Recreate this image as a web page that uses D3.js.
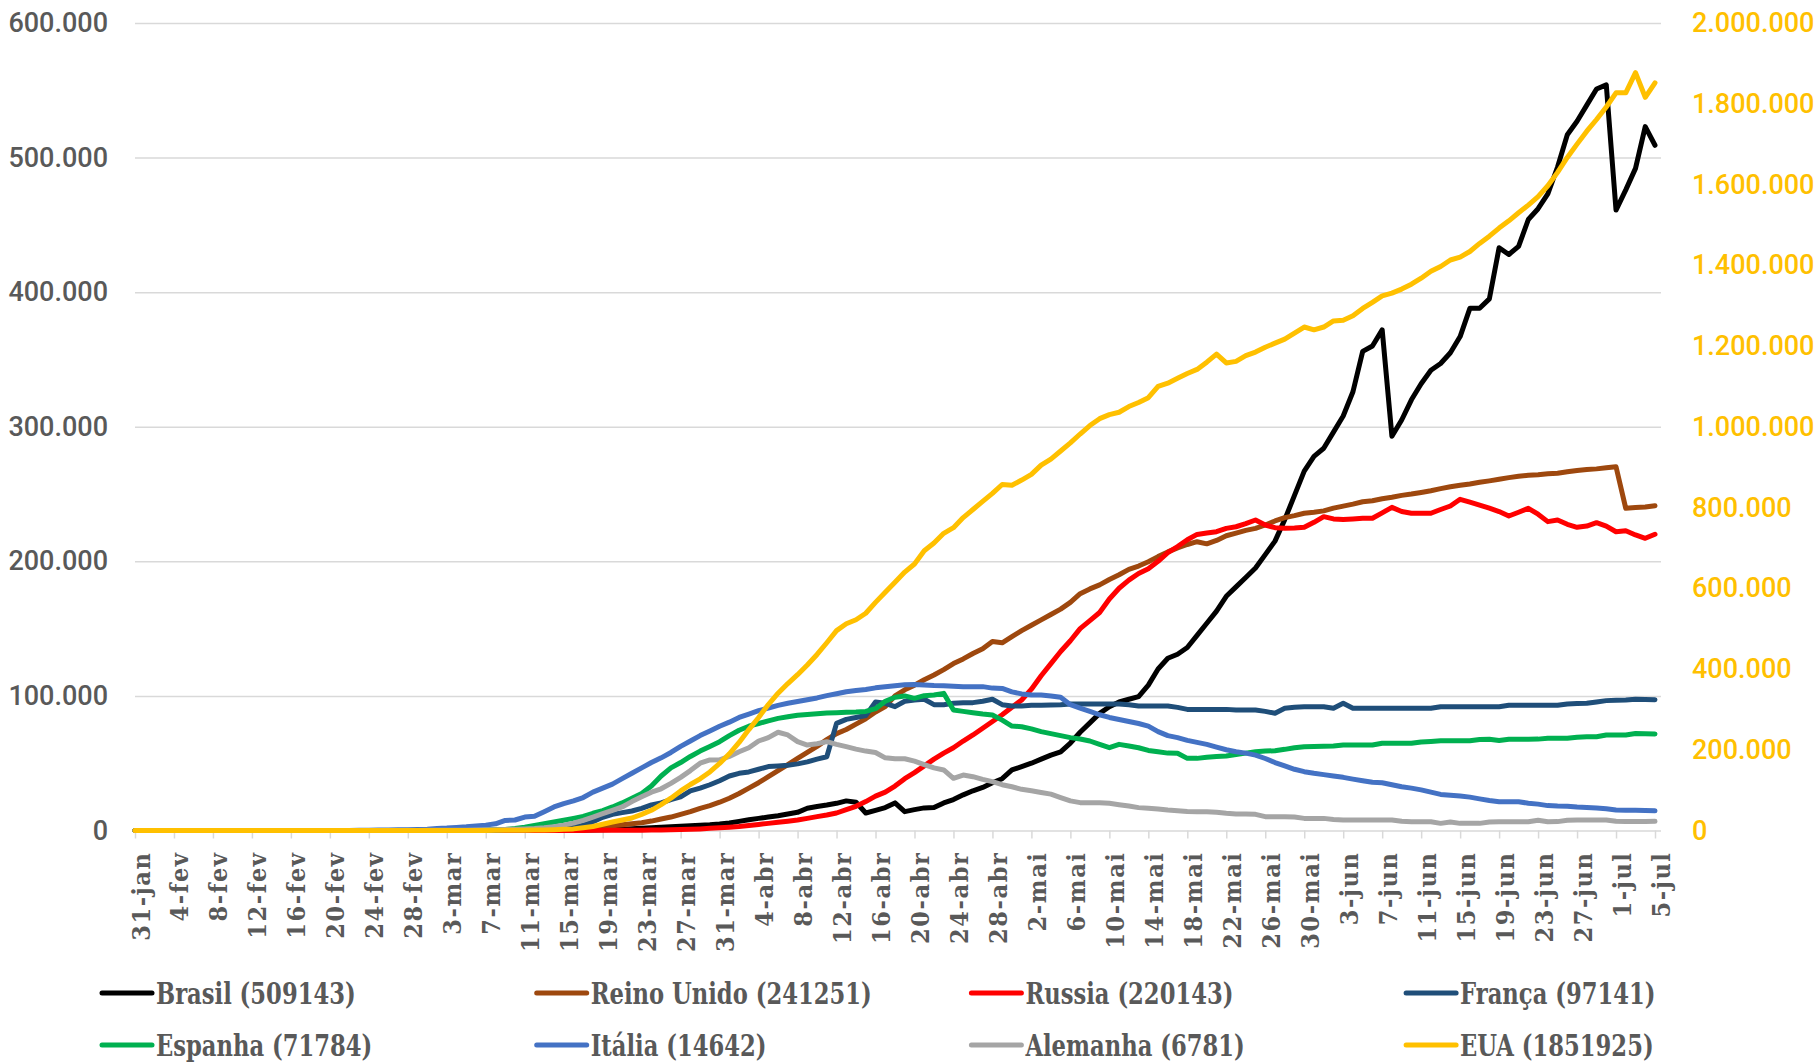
<!DOCTYPE html>
<html>
<head>
<meta charset="utf-8">
<script src="https://cdn.jsdelivr.net/npm/d3@7"></script>
<style>
  body { margin: 0; background: #fff; }
  .canvas svg { display: block; }
</style>
</head>
<body>
<div class="canvas"></div>
<script>
// one value per day, 31-jan to 5-jul
const firstDay = new Date(2020, 0, 31);
const lastDay = new Date(2020, 6, 5);
const monthNames = ['jan', 'fev', 'mar', 'abr', 'mai', 'jun', 'jul'];

const tickLabels = ['31-jan', '4-fev', '8-fev', '12-fev', '16-fev', '20-fev', '24-fev', '28-fev',
  '3-mar', '7-mar', '11-mar', '15-mar', '19-mar', '23-mar', '27-mar', '31-mar',
  '4-abr', '8-abr', '12-abr', '16-abr', '20-abr', '24-abr', '28-abr',
  '2-mai', '6-mai', '10-mai', '14-mai', '18-mai', '22-mai', '26-mai', '30-mai',
  '3-jun', '7-jun', '11-jun', '15-jun', '19-jun', '23-jun', '27-jun', '1-jul', '5-jul'];

const leftTicks = [0, 100000, 200000, 300000, 400000, 500000, 600000];
const rightTicks = [0, 200000, 400000, 600000, 800000, 1000000, 1200000, 1400000, 1600000, 1800000, 2000000];

const brasil = [
  0,0,0,0,0,0,0,0,0,0,
  0,0,0,0,0,0,0,0,0,0,
  0,0,0,0,0,0,1,1,1,2,
  2,2,2,3,8,13,19,25,30,35,
  52,76,98,121,200,230,290,420,600,800,
  1000,1300,1600,2000,2400,2800,3200,3600,3900,4200,
  4800,5600,6800,8000,9000,10000,11000,12300,13500,16500,
  17800,18900,20200,22000,21000,13000,15000,17000,20500,14000,
  15500,16800,17000,20500,23000,26500,29500,32000,35500,38500,
  45000,47500,50000,53000,56000,58500,65000,73000,80000,87000,
  92000,95500,97500,99500,108000,120000,128000,131000,136000,145000,
  154000,163000,174000,181000,188000,195000,205000,215000,231000,249000,
  267000,278000,284000,296000,308000,326000,356000,360000,372000,293000,
  305000,320000,332000,342000,347000,355000,367000,388000,388000,395000,
  433000,428000,434000,454000,462000,473000,493000,517000,527000,539000,
  551000,554000,461000,476000,492000,523000,509143
];

const reinoUnido = [
  2,2,2,2,2,2,2,2,2,3,
  8,8,8,8,8,8,8,8,8,8,
  8,8,8,8,8,13,13,15,20,23,
  35,40,40,51,80,107,160,190,250,300,
  350,400,440,570,1000,1300,1800,2200,2800,3500,
  4300,5000,5800,7000,8500,10000,12000,14000,16500,18500,
  21000,24000,27500,31500,35500,40000,44500,49000,53500,58000,
  62500,67500,72000,75000,79000,83000,88000,92000,100000,104500,
  108000,112000,115500,119500,124000,127500,131500,135000,140500,139500,
  144000,148500,152500,156500,160500,164500,169500,176000,179500,182500,
  186500,190000,194000,196500,199700,203500,207000,210000,212500,214600,
  213000,215500,219000,221000,223000,224500,227000,230000,232500,234000,
  235700,236500,237500,239500,241000,242500,244300,245000,246500,247600,
  249000,250000,251200,252500,254000,255400,256500,257500,258700,259800,
  261000,262200,263200,264000,264400,265000,265400,266500,267500,268200,
  268700,269500,270300,239400,240000,240300,241251
];

const russia = [
  0,0,2,2,2,2,2,2,2,2,
  2,2,2,2,2,2,2,2,2,0,
  0,0,0,0,0,0,0,0,0,0,
  0,2,3,3,3,4,4,10,13,15,
  20,25,27,40,55,70,80,95,110,130,
  150,200,250,300,400,500,700,900,1200,1600,
  2000,2500,3000,3700,4500,5300,6100,6900,7800,9000,
  10300,11500,13000,15500,18000,21500,25500,28500,33000,38500,
  43000,48000,53000,57500,61500,66500,71000,76000,81000,86000,
  91500,97000,105000,115000,124000,133000,141000,150000,156000,162000,
  172000,180000,186000,191000,194500,200000,206500,211000,216000,220000,
  221000,222000,224500,225700,228000,230700,227000,225000,224500,224800,
  225300,229000,233200,231500,231000,231500,232000,232000,236000,240100,
  237000,235700,235700,235700,238500,241100,246100,244000,241800,239500,
  237000,233700,236500,239400,235000,229500,230700,227500,225300,226200,
  228700,226200,222000,222700,219600,217100,220143
];

const franca = [
  6,6,6,6,6,6,6,6,6,6,
  11,11,11,11,11,11,11,11,11,11,
  11,11,11,11,11,12,15,30,45,60,
  80,100,110,150,200,250,330,420,500,560,
  600,800,1000,1400,1900,2500,4000,6500,9800,12000,
  13300,14500,16500,19000,20500,23000,25000,29500,31500,34000,
  37000,40500,42500,43500,45500,47500,48000,48500,49500,51000,
  53000,54800,79600,82600,84000,85500,95500,94500,92000,96000,
  97000,97500,93500,93500,94500,95000,95000,96000,97500,93500,
  92500,92500,93000,93000,93200,93500,94000,94000,94000,94000,
  94000,94000,93500,92500,92500,92500,92500,91500,90000,90000,
  90000,90000,90000,89500,89500,89500,88500,87100,90800,91500,
  92000,92000,92000,90900,94500,90800,90800,90800,90800,90800,
  90800,90800,90800,90800,92000,92000,92000,92000,92000,92000,
  92000,93000,93000,93000,93000,93000,93000,94000,94300,94500,
  95500,96500,96800,97000,97500,97300,97141
];

const espanha = [
  0,0,0,0,0,0,0,0,0,0,
  1,1,1,2,2,2,2,2,2,2,
  2,2,2,2,2,2,10,15,30,40,
  70,110,140,200,230,330,380,500,800,1500,
  2500,3800,5000,6300,7600,9000,10500,12800,14800,17500,
  20500,24000,27500,33000,40500,46500,50500,55000,59000,62500,
  66000,70500,74500,77500,79500,81500,83300,84500,85700,86200,
  86700,87300,87500,87800,88000,88500,90500,96000,99000,100000,
  98200,100200,100700,101900,89500,88500,87500,86500,85800,82000,
  77600,77100,75500,73500,72000,70500,69000,68000,66500,64000,
  61500,64000,62800,61500,59500,58500,57500,57400,53600,53600,
  54500,55000,55400,56500,57500,58500,59000,59300,60300,61500,
  62300,62500,62600,62800,63500,63500,63500,63500,64800,64800,
  64800,64800,65800,66200,66700,66700,66700,66700,67600,67800,
  66900,67800,67800,67800,67900,68500,68500,68500,69300,69700,
  69700,71000,71000,71000,72000,71900,71784
];

const italia = [
  0,0,0,0,0,0,0,0,0,0,
  3,3,3,3,3,3,3,3,3,3,
  3,17,60,130,220,310,380,530,600,800,
  1000,1500,1800,2300,2700,3300,4000,5000,7500,7800,
  10000,10500,14000,17500,20000,22000,24500,28500,31500,34500,
  38500,42500,46500,50500,54000,58000,62500,66500,70500,74000,
  77500,80500,84000,86500,89000,91000,93000,94500,95800,97200,
  98500,100200,101600,103100,104000,104800,106000,106800,107500,108300,
  108500,108100,107700,107600,107200,106900,106900,106900,105800,105600,
  103000,101500,100700,100700,100000,99000,93500,91000,88500,86000,
  84000,82500,81000,79500,77600,73500,70500,69000,67000,65500,
  64000,62000,60000,58500,57500,56000,53500,50500,48000,45500,
  43700,42500,41500,40500,39500,38200,37000,35800,35500,34000,
  32500,31500,30200,28500,26800,26200,25700,24800,23500,22300,
  21400,21400,21300,20300,19600,18500,18200,18100,17400,17000,
  16700,16200,15300,15100,15000,14900,14642
];

const alemanha = [
  0,5,7,7,9,9,9,11,11,11,
  14,14,14,14,14,14,14,14,14,14,
  14,14,14,14,14,14,14,15,30,40,
  100,120,150,180,230,360,520,640,780,1000,
  1200,1500,2000,2800,4000,5500,7500,10000,12500,15000,
  17500,21500,25000,28500,31000,35000,39500,44500,50000,52400,
  52500,55000,58500,61500,66500,69000,73000,71000,66000,63500,
  64500,66000,64000,62300,60500,59000,58000,54000,53300,53300,
  51500,49000,46500,45000,38800,41200,40000,38000,36300,34000,
  32500,30600,29500,28300,27000,24500,22000,20700,20700,20700,
  20200,19200,18200,17000,16500,16000,15200,14700,14200,14000,
  14000,13500,12800,12300,12300,12000,10300,10300,10300,10000,
  9000,9000,9000,8200,7800,7800,7800,7800,7800,7800,
  6800,6500,6500,6500,5300,6300,5300,5300,5300,6300,
  6500,6500,6500,6500,7600,6500,6600,7600,7800,7800,
  7800,7800,6800,6600,6600,6600,6781
];

// EUA goes on the right-hand axis
const eua = [
  5,6,7,8,8,11,11,11,11,11,
  11,11,12,12,12,12,12,13,13,13,
  13,13,28,28,29,30,30,40,45,50,
  60,70,80,110,140,190,240,340,420,500,
  800,1100,1500,2000,2800,4000,7000,10000,15500,21000,
  26000,31000,40000,50000,64000,80000,98000,114000,128000,145000,
  166000,190000,218000,250000,280000,312000,340000,364000,386000,410000,
  436000,465000,495000,512000,522000,538000,565000,590000,615000,640000,
  660000,693000,712000,736000,750000,775000,795000,815000,835000,857000,
  855000,868000,882000,905000,920000,940000,960000,982000,1003000,1020000,
  1030000,1036000,1050000,1060000,1072000,1100000,1108000,1120000,1132000,1142000,
  1160000,1180000,1158000,1162000,1176000,1185000,1197000,1207000,1217000,1232000,
  1247000,1240000,1247000,1262000,1264000,1275000,1293000,1308000,1324000,1331000,
  1341000,1353000,1368000,1385000,1397000,1413000,1420000,1434000,1454000,1472000,
  1492000,1510000,1530000,1549000,1570000,1597000,1630000,1667000,1700000,1732000,
  1761000,1792000,1827000,1827000,1877000,1816000,1851925
];

const categories = d3.timeDay.range(firstDay, d3.timeDay.offset(lastDay, 1))
  .map(d => `${d.getDate()}-${monthNames[d.getMonth()]}`);

const series = [
  { name: 'Brasil', values: brasil, color: '#000000', axis: 'left' },
  { name: 'Reino Unido', values: reinoUnido, color: '#9E480E', axis: 'left' },
  { name: 'Russia', values: russia, color: '#FF0000', axis: 'left' },
  { name: 'França', values: franca, color: '#1F4E79', axis: 'left' },
  { name: 'Espanha', values: espanha, color: '#00B050', axis: 'left' },
  { name: 'Itália', values: italia, color: '#4472C4', axis: 'left' },
  { name: 'Alemanha', values: alemanha, color: '#A5A5A5', axis: 'left' },
  { name: 'EUA', values: eua, color: '#FFC000', axis: 'right' }
];

const width = 1814;
const height = 1062;
const plot = { left: 135, right: 1655, gridEnd: 1661, top: 23, bottom: 830.5 };
const slab = '"DejaVu Serif Condensed", "DejaVu Serif", serif';

const ptBR = d3.formatLocale({ decimal: ',', thousands: '.', grouping: [3], currency: ['R$', ''] });
const fmt = ptBR.format(',');

const svg = d3.select('.canvas')
  .append('svg')
  .attr('width', width)
  .attr('height', height)
  .style('background', '#fff');

const x = d3.scalePoint()
  .domain(categories)
  .range([plot.left, plot.right]);

const yLeft = d3.scaleLinear()
  .domain([0, 600000])
  .range([plot.bottom, plot.top]);

const yRight = d3.scaleLinear()
  .domain([0, 2000000])
  .range([plot.bottom, plot.top]);

// horizontal gridlines
const grid = svg.append('g')
  .attr('transform', `translate(${plot.left},0)`)
  .call(d3.axisLeft(yLeft)
    .tickValues(leftTicks)
    .tickSize(-(plot.gridEnd - plot.left))
    .tickFormat(''));
grid.select('.domain').remove();
grid.selectAll('line')
  .attr('stroke', '#d9d9d9')
  .attr('stroke-width', 1.5);

// left axis labels
const yAxisGroup = svg.append('g')
  .attr('transform', `translate(${plot.left},0)`)
  .call(d3.axisLeft(yLeft)
    .tickValues(leftTicks)
    .tickSize(0)
    .tickPadding(27)
    .tickFormat(fmt));
yAxisGroup.select('.domain').remove();
yAxisGroup.selectAll('text')
  .attr('fill', '#595959')
  .attr('font-family', 'Roboto, "Noto Sans", sans-serif')
  .attr('font-weight', 500)
  .attr('font-size', '27px');

// right axis labels (EUA)
const yRightGroup = svg.append('g')
  .attr('transform', `translate(${plot.gridEnd},0)`)
  .call(d3.axisRight(yRight)
    .tickValues(rightTicks)
    .tickSize(0)
    .tickPadding(31)
    .tickFormat(fmt));
yRightGroup.select('.domain').remove();
yRightGroup.selectAll('text')
  .attr('fill', '#FFC000')
  .attr('font-family', 'Roboto, "Noto Sans", sans-serif')
  .attr('font-weight', 500)
  .attr('font-size', '27px');

// category axis
const xAxisGroup = svg.append('g')
  .attr('transform', `translate(0,${plot.bottom})`)
  .call(d3.axisBottom(x)
    .tickValues(tickLabels)
    .tickSize(8)
    .tickSizeOuter(0));
xAxisGroup.select('.domain').remove();
xAxisGroup.selectAll('line')
  .attr('stroke', '#d9d9d9')
  .attr('stroke-width', 1.5);
xAxisGroup.selectAll('text')
  .attr('transform', 'rotate(-90)')
  .attr('text-anchor', 'end')
  .attr('x', -21)
  .attr('y', 0)
  .attr('dy', '0.56em')
  .attr('fill', '#595959')
  .attr('font-family', slab)
  .attr('font-stretch', 'condensed')
  .attr('font-weight', 'bold')
  .attr('font-size', '25px')
  .attr('letter-spacing', '1.6px');

// lines
const lineFor = s => d3.line()
  .x((d, i) => x(categories[i]))
  .y(d => (s.axis === 'right' ? yRight : yLeft)(d));

svg.append('g')
  .selectAll('path')
  .data(series)
  .enter()
  .append('path')
  .attr('fill', 'none')
  .attr('stroke', d => d.color)
  .attr('stroke-width', 5)
  .attr('stroke-linejoin', 'round')
  .attr('stroke-linecap', 'round')
  .attr('d', d => lineFor(d)(d.values));

// legend, 4 columns x 2 rows
const legend = svg.append('g');
const items = legend.selectAll('g')
  .data(series)
  .enter()
  .append('g')
  .attr('transform', (d, i) => `translate(${102 + (i % 4) * 434.7},${993 + Math.floor(i / 4) * 52})`);

items.append('line')
  .attr('x1', 0)
  .attr('x2', 50)
  .attr('stroke', d => d.color)
  .attr('stroke-width', 5)
  .attr('stroke-linecap', 'round');

items.append('text')
  .attr('transform', 'translate(54,0) scale(0.84,1)')
  .attr('dy', '0.36em')
  .attr('fill', '#595959')
  .attr('font-family', slab)
  .attr('font-stretch', 'condensed')
  .attr('font-weight', 'bold')
  .attr('font-size', '30px')
  .text(d => `${d.name} (${d.values[d.values.length - 1]})`);
</script>
</body>
</html>
